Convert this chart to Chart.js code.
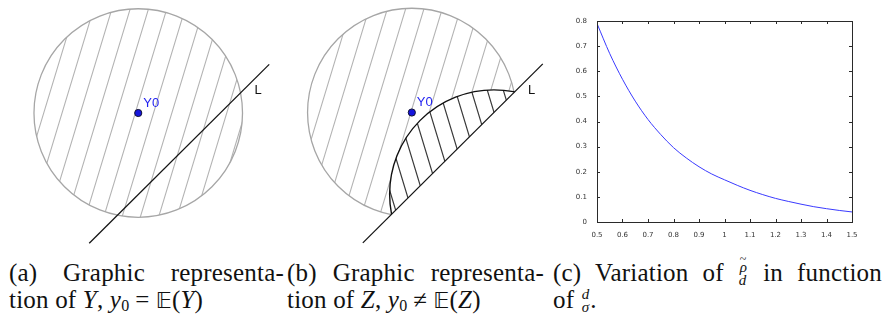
<!DOCTYPE html>
<html>
<head>
<meta charset="utf-8">
<script src="https://cdn.jsdelivr.net/npm/chart.js@4/dist/chart.umd.min.js"></script>
<style>
  html, body { margin: 0; padding: 0; background: #fff; }
  #page { position: relative; width: 885px; height: 316px; overflow: hidden; }
  .box { position: absolute; }
  .cap {
    position: absolute;
    font-family: "Liberation Serif", "DejaVu Serif", serif;
    font-size: 25px;
    letter-spacing: 0.2px;
    line-height: 27px;
    color: #111;
    white-space: nowrap;
  }
  .cap > div { height: 27px; }
  .cap .l1 { text-align: justify; text-align-last: justify; white-space: normal; }
  .cap i { font-style: italic; }
  .cap sub { font-size: 16px; vertical-align: -3px; line-height: 0; }
  .rel { margin: 0 6px; }
  .bb { font-family: "DejaVu Sans", "DejaVu Serif", serif; font-size: 22px; }
  .frac {
    display: inline-block; vertical-align: -4px; text-align: center;
    font-size: 15px; line-height: 12px; font-style: italic; letter-spacing: 0;
  }
  .frac span { display: block; padding: 0 1px; }
  .frac .num { padding-bottom: 1px; }
  .tl { position: relative; display: inline-block; }
  .tl b { position: absolute; left: 1px; top: -8px; font-weight: normal; font-style: normal; font-size: 12px; }
</style>
</head>
<body>
<div id="page">
  <div class="box" style="left:0;top:0;width:290px;height:250px"><canvas id="panelA"></canvas></div>
  <div class="box" style="left:290px;top:0;width:290px;height:250px"><canvas id="panelB"></canvas></div>
  <div class="box" style="left:565px;top:10px;width:305px;height:230px"><canvas id="panelC"></canvas></div>

  <div class="cap" style="left:9px;top:259px;width:275px">
    <div class="l1">(a) Graphic representa-</div>
    <div>tion of <i>Y</i>, <i>y</i><sub>0</sub><span class="rel">=</span><span class="bb">𝔼</span>(<i>Y</i>)</div>
  </div>
  <div class="cap" style="left:287px;top:259px;width:257px">
    <div class="l1">(b) Graphic representa-</div>
    <div>tion of <i>Z</i>, <i>y</i><sub>0</sub><span class="rel">≠</span><span class="bb">𝔼</span>(<i>Z</i>)</div>
  </div>
  <div class="cap" style="left:553px;top:259px;width:329px">
    <div class="l1">(c) Variation of <span class="frac"><span class="num"><span class="tl">ρ<b>~</b></span></span><span>d</span></span> in function</div>
    <div>of <span class="frac"><span class="num">d</span><span>σ</span></span>.</div>
  </div>
</div>
<script>
  // panel (c): rho~/d against d/sigma
  const ratioValues = [0.5, 0.55, 0.6, 0.65, 0.7, 0.75, 0.8, 0.85, 0.9, 0.95, 1.0,
    1.05, 1.1, 1.15, 1.2, 1.25, 1.3, 1.35, 1.4, 1.45, 1.5];
  const rhoOverD = [0.79, 0.67, 0.568, 0.481, 0.408, 0.348, 0.296, 0.255, 0.22, 0.191, 0.168,
    0.146, 0.126, 0.109, 0.094, 0.082, 0.071, 0.061, 0.053, 0.046, 0.04];
  const xTickLabels = ["0.5", "0.6", "0.7", "0.8", "0.9", "1", "1.1", "1.2", "1.3", "1.4", "1.5"];
  const yTickLabels = ["0", "0.1", "0.2", "0.3", "0.4", "0.5", "0.6", "0.7", "0.8"];

  // panels (a) and (b): unit circle round Y0 and the line L (x - y = 0.787)
  const circleCenter = [0, 0];
  const circleRadius = 1;
  const lineL = [[-0.47, -1.257], [1.256, 0.469]];
  const labelL = [1.115, 0.18];
  const mirrorCenter = [0.787, -0.787]; // circle reflected across L

  function toPx(chart, p) {
    return [chart.scales.x.getPixelForValue(p[0]), chart.scales.y.getPixelForValue(p[1])];
  }

  function radiusPx(chart) {
    return chart.scales.x.getPixelForValue(circleRadius) - chart.scales.x.getPixelForValue(0);
  }

  function circlePath(ctx, c, r) {
    ctx.beginPath();
    ctx.arc(c[0], c[1], r, 0, Math.PI * 2);
  }

  // half plane on the side of L that holds Y0
  function halfPlanePath(chart) {
    const a = toPx(chart, lineL[0]);
    const b = toPx(chart, lineL[1]);
    const c = toPx(chart, circleCenter);
    const dx = b[0] - a[0], dy = b[1] - a[1];
    let nx = -dy, ny = dx;
    if ((c[0] - a[0]) * nx + (c[1] - a[1]) * ny < 0) { nx = -nx; ny = -ny; }
    const ctx = chart.ctx;
    ctx.beginPath();
    ctx.moveTo(a[0] - dx * 5, a[1] - dy * 5);
    ctx.lineTo(b[0] + dx * 5, b[1] + dy * 5);
    ctx.lineTo(b[0] + dx * 5 + nx * 5, b[1] + dy * 5 + ny * 5);
    ctx.lineTo(a[0] - dx * 5 + nx * 5, a[1] - dy * 5 + ny * 5);
    ctx.closePath();
  }

  function hatch(ctx, origin, dir, hSpacing, color, width) {
    const len = Math.hypot(dir[0], dir[1]);
    const ux = dir[0] / len, uy = dir[1] / len;
    const nx = -uy, ny = ux;
    const step = hSpacing * Math.abs(uy);
    ctx.strokeStyle = color;
    ctx.lineWidth = width;
    ctx.beginPath();
    for (let k = -30; k <= 30; k++) {
      const ox = origin[0] + nx * step * k, oy = origin[1] + ny * step * k;
      ctx.moveTo(ox - ux * 400, oy - uy * 400);
      ctx.lineTo(ox + ux * 400, oy + uy * 400);
    }
    ctx.stroke();
  }

  const diagramPlugin = {
    id: "diagram",
    beforeDatasetsDraw(chart, args, opts) {
      const ctx = chart.ctx;
      const c = toPx(chart, circleCenter);
      const r = radiusPx(chart);
      const grayOrigin = [c[0] + opts.hatchShift, c[1]];

      if (!opts.cut) {
        ctx.save();
        circlePath(ctx, c, r);
        ctx.clip();
        hatch(ctx, grayOrigin, [1, -3.3], 18.3, "#b4b4b4", 1.1);
        ctx.restore();

        circlePath(ctx, c, r);
        ctx.strokeStyle = "#a6a6a6";
        ctx.lineWidth = 1.3;
        ctx.stroke();
        return;
      }

      const m = toPx(chart, mirrorCenter);

      // light hatch: inside circle, Y0 side of L, outside mirrored circle
      ctx.save();
      circlePath(ctx, c, r);
      ctx.clip();
      halfPlanePath(chart);
      ctx.clip();
      ctx.beginPath();
      ctx.rect(-10, -10, chart.width + 20, chart.height + 20);
      ctx.arc(m[0], m[1], r, 0, Math.PI * 2);
      ctx.clip("evenodd");
      hatch(ctx, grayOrigin, [1, -3.3], 18.3, "#b4b4b4", 1.1);
      ctx.restore();

      // dark hatch: mirrored part
      ctx.save();
      circlePath(ctx, m, r);
      ctx.clip();
      halfPlanePath(chart);
      ctx.clip();
      hatch(ctx, [c[0] + 46, c[1] - 14], [1, 3.3], 16, "#3a3a3a", 1.2);
      ctx.restore();

      ctx.save();
      halfPlanePath(chart);
      ctx.clip();
      circlePath(ctx, c, r);
      ctx.strokeStyle = "#a6a6a6";
      ctx.lineWidth = 1.3;
      ctx.stroke();
      circlePath(ctx, m, r);
      ctx.strokeStyle = "#111";
      ctx.lineWidth = 1.4;
      ctx.stroke();
      ctx.restore();
    },
    afterDatasetsDraw(chart) {
      const ctx = chart.ctx;
      const c = toPx(chart, circleCenter);
      const l = toPx(chart, labelL);
      ctx.save();
      ctx.font = "13px 'Liberation Sans', Arial, sans-serif";
      ctx.textBaseline = "alphabetic";
      ctx.textAlign = "left";
      ctx.fillStyle = "#1f1ff0";
      ctx.fillText("Y0", c[0] + 5, c[1] - 6.5);
      ctx.fillStyle = "#111";
      ctx.fillText("L", l[0], l[1]);
      ctx.restore();
    },
  };

  function createDiagram(canvasId, xRange, yRange, cut, hatchShift) {
    return new Chart(document.getElementById(canvasId), {
      type: "scatter",
      data: {
        datasets: [
          {
            data: [{ x: circleCenter[0], y: circleCenter[1] }],
            pointRadius: 3.6,
            pointBackgroundColor: "#1515dd",
            pointBorderColor: "#111133",
            pointBorderWidth: 1,
          },
          {
            data: lineL.map((p) => ({ x: p[0], y: p[1] })),
            showLine: true,
            borderColor: "#151515",
            borderWidth: 1.3,
            pointRadius: 0,
          },
        ],
      },
      options: {
        responsive: true,
        maintainAspectRatio: false,
        animation: false,
        layout: { padding: 0 },
        scales: {
          x: { type: "linear", display: false, min: xRange[0], max: xRange[1] },
          y: { type: "linear", display: false, min: yRange[0], max: yRange[1] },
        },
        plugins: {
          legend: { display: false },
          tooltip: { enabled: false },
          diagram: { cut, hatchShift },
        },
      },
      plugins: [diagramPlugin],
    });
  }

  // inward ticks on all four sides plus the frame, matlab style
  const frameTicksPlugin = {
    id: "frameTicks",
    afterDraw(chart) {
      const { ctx, chartArea: a, scales: { x, y } } = chart;
      const len = 3;
      ctx.save();
      ctx.strokeStyle = "#2a2a2a";
      ctx.lineWidth = 1;
      ctx.beginPath();
      x.ticks.forEach((t) => {
        const px = Math.round(x.getPixelForValue(t.value)) + 0.5;
        ctx.moveTo(px, a.bottom);
        ctx.lineTo(px, a.bottom - len);
        ctx.moveTo(px, a.top);
        ctx.lineTo(px, a.top + len);
      });
      y.ticks.forEach((t) => {
        const py = Math.round(y.getPixelForValue(t.value)) + 0.5;
        ctx.moveTo(a.left, py);
        ctx.lineTo(a.left + len, py);
        ctx.moveTo(a.right, py);
        ctx.lineTo(a.right - len, py);
      });
      ctx.stroke();
      ctx.strokeRect(Math.round(a.left) + 0.5, Math.round(a.top) + 0.5,
        Math.round(a.right - a.left), Math.round(a.bottom - a.top));
      ctx.restore();
    },
  };

  function createCurveChart() {
    const tickFont = { family: "'DejaVu Sans', sans-serif", size: 7 };
    return new Chart(document.getElementById("panelC"), {
      type: "line",
      data: {
        datasets: [
          {
            data: ratioValues.map((v, i) => ({ x: v, y: rhoOverD[i] })),
            borderColor: "#3a3aff",
            borderWidth: 1,
            pointRadius: 0,
            cubicInterpolationMode: "monotone",
          },
        ],
      },
      options: {
        responsive: true,
        maintainAspectRatio: false,
        animation: false,
        layout: { padding: { top: 11, right: 18, left: 0, bottom: 0 } },
        scales: {
          x: {
            type: "linear",
            min: 0.5,
            max: 1.5,
            afterFit: (s) => { s.height = 18; },
            grid: { display: false },
            border: { display: false },
            ticks: {
              stepSize: 0.1,
              padding: 1,
              maxRotation: 0,
              autoSkip: false,
              color: "#333",
              font: tickFont,
              callback: (v, i) => xTickLabels[i],
            },
          },
          y: {
            type: "linear",
            min: 0,
            max: 0.8,
            afterFit: (s) => { s.width = 32; },
            grid: { display: false },
            border: { display: false },
            ticks: {
              stepSize: 0.1,
              padding: 2,
              autoSkip: false,
              color: "#333",
              font: tickFont,
              callback: (v, i) => yTickLabels[i],
            },
          },
        },
        plugins: { legend: { display: false }, tooltip: { enabled: false } },
      },
      plugins: [frameTicksPlugin],
    });
  }

  createDiagram("panelA", [-1.2778, 1.4074], [-1.2731, 1.0417], false, -3);
  createDiagram("panelB", [-1.1204, 1.5648], [-1.2778, 1.037], true, -1);
  createCurveChart();
</script>
</body>
</html>
